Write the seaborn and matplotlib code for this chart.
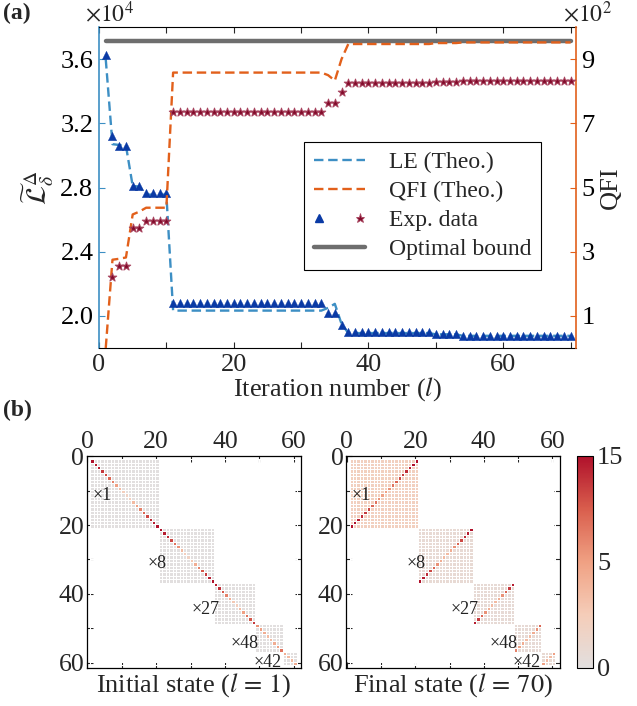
import numpy as np
import pandas as pd
import matplotlib
matplotlib.use("Agg")
import matplotlib.pyplot as plt
import seaborn as sns
from matplotlib.colors import LinearSegmentedColormap, PowerNorm
from matplotlib.lines import Line2D
from matplotlib.legend_handler import HandlerTuple
from matplotlib.ticker import FixedLocator

# ------------------------------------------------------------------ data (a)
iters = list(range(1, 71))
# LE in units of 1e4
le_exp = ([3.626, 3.12, 3.058, 3.058, 2.808, 2.808, 2.767, 2.767, 2.767, 2.767]
          + [2.079] * 23 + [2.017, 2.017, 1.944] + [1.898] * 13 + [1.888] * 4 + [1.875] * 17)
le_theo = ([3.60, 3.07, 3.065, 3.06, 2.81, 2.805, 2.756, 2.756, 2.756, 2.756]
           + [2.033] * 23 + [2.05, 2.075, 1.95] + [1.893] * 13 + [1.885] * 4 + [1.876] * 17)
# QFI in units of 1e2
qfi_theo = ([0.0, 2.75, 2.78, 2.82, 4.16, 4.25, 4.37, 4.37, 4.37, 4.37]
            + [8.58] * 23 + [8.50, 8.33, 9.00] + [9.47] * 13 + [9.50] * 4 + [9.52] * 17)
qfi_exp = ([np.nan, 2.21, 2.54, 2.54, 3.74, 3.74, 3.95, 3.95, 3.95, 3.95]
           + [7.34] * 23 + [7.63, 7.63, 7.99] + [8.25] * 13 + [8.29] * 4 + [8.33] * 17)
optimal_bound = 9.55
bound_iters = [1, 70]

legend_labels = ["LE (Theo.)", "QFI (Theo.)", "Exp. data", "Optimal bound"]

# ------------------------------------------------------------------ data (b)
block_sizes = [20, 16, 12, 8, 4]
block_mult = ["×1", "×8", "×27", "×48", "×42"]
init_diag = [
    [15, 14, 14, 12, 11, 9, 7, 5, 3, 1.5, 1, 1.5, 3, 5, 7, 9, 11, 13, 14, 15],
    [15, 14, 13, 11, 8, 6, 3, 1.5, 1, 2, 4, 7, 10, 12, 14, 15],
    [14, 13, 10, 7, 4, 2, 1.5, 3, 5, 8, 10, 12],
    [6, 5, 4, 3, 3, 4, 5, 8],
    [4, 3, 3, 4],
]
init_bg = [0.0, 0.0, 0.0, 0.0, 0.0]
final_anti = [
    [15, 15, 14, 13, 12, 11, 9, 8, 6, 5, 5, 6, 8, 9, 11, 12, 13, 14, 15, 15],
    [15, 14, 13, 11, 9, 6, 4, 3, 3, 4, 6, 9, 11, 13, 14, 15],
    [14, 12, 9, 6, 4, 3, 3, 4, 6, 9, 12, 14],
    [9, 6, 4, 3, 3, 4, 5, 7],
    [5, 3, 3, 5],
]
final_bg = [1.3, 0.25, 0.2, 0.2, 0.3]
cbar_ticks = [0, 5, 15]


def build(vals_list, bg_list, anti):
    n = sum(block_sizes)
    m = np.full((n, n), np.nan)
    s = 0
    for size, vals, bg in zip(block_sizes, vals_list, bg_list):
        m[s:s + size, s:s + size] = bg
        for i, v in enumerate(vals):
            j = size - 1 - i if anti else i
            m[s + i, s + j] = v
        s += size
    return pd.DataFrame(m)


init_M = build(init_diag, init_bg, anti=False)
final_M = build(final_anti, final_bg, anti=True)

# ------------------------------------------------------------------ style
sns.set_style("ticks")
plt.rcParams["font.family"] = ["Liberation Serif", "DejaVu Serif"]
plt.rcParams["mathtext.fontset"] = "stix"
plt.rcParams["xtick.direction"] = "in"
plt.rcParams["ytick.direction"] = "in"

FS = 19
c_le = "#3d8fc4"
c_qfi = "#e2601b"
c_tri = "#0a3aa5"
c_star = "#820a2a"
c_star_edge = "#a8445f"
c_bound = "#6e6e6e"
dash = (0, (4, 2))

W, H = 637, 706
fig = plt.figure(figsize=(W / 100, H / 100), dpi=100)

# ------------------------------------------------------------------ panel (a)
ax = fig.add_axes([99 / W, 1 - 348 / H, (576 - 99) / W, (348 - 27) / H])
ax2 = ax.twinx()

sns.lineplot(x=iters, y=le_theo, ax=ax, color=c_le, lw=1.7, linestyle=dash, sort=False, errorbar=None)
sns.scatterplot(x=iters, y=le_exp, ax=ax, marker="^", s=36, color=c_tri, edgecolor=c_tri, linewidth=0.3, zorder=3)

sns.lineplot(x=bound_iters, y=[optimal_bound, optimal_bound], ax=ax2, color=c_bound, lw=3.2, sort=False, errorbar=None)
sns.lineplot(x=iters, y=qfi_theo, ax=ax2, color=c_qfi, lw=1.7, linestyle=dash, sort=False, errorbar=None)
sns.scatterplot(x=iters, y=qfi_exp, ax=ax2, marker="*", s=42, color=c_star, edgecolor=c_star_edge, linewidth=0.7, zorder=3)

ax.set_xlim(0, 70.8)
ax.set_ylim(1.8, 3.8)
ax2.set_ylim(0.0, 10.0)

ax.set_xticks(list(range(0, 71, 10)))
ax.set_xticklabels(["0", "", "20", "", "40", "", "60", ""])
ax.set_yticks([2.0, 2.4, 2.8, 3.2, 3.6])
ax.set_yticklabels(["2.0", "2.4", "2.8", "3.2", "3.6"])
ax2.set_yticks([1, 3, 5, 7, 9])
ax2.set_yticklabels(["1", "3", "5", "7", "9"])

ax.tick_params(axis="x", which="both", direction="in", top=True, bottom=True, labelsize=FS, length=4, width=0.8, pad=4)
ax.tick_params(axis="y", direction="in", color=c_le, labelcolor="black", labelsize=FS, length=4, width=0.8, right=False, pad=4)
ax2.tick_params(axis="y", direction="in", color=c_qfi, labelcolor="black", labelsize=FS, length=4, width=0.8, pad=4)

ax.spines["left"].set_color(c_le)
ax.spines["left"].set_linewidth(1.2)
ax.spines["right"].set_visible(False)
for s in ("top", "bottom"):
    ax.spines[s].set_color("black")
    ax.spines[s].set_linewidth(0.8)
ax2.spines["right"].set_color(c_qfi)
ax2.spines["right"].set_linewidth(1.2)
for s in ("left", "top", "bottom"):
    ax2.spines[s].set_visible(False)

ax.set_xlabel("Iteration number ($l$)", fontsize=FS, labelpad=0)
ax.set_ylabel(r"$\widetilde{\mathcal{L}}_{\delta}^{\Delta}$", fontsize=20, labelpad=3)
ax2.set_ylabel("QFI", fontsize=FS, rotation=90, labelpad=4)

fig.text(85 / W, 1 - 14 / H, r"$\times10^{4}$", fontsize=17, va="center", ha="left")
fig.text(563 / W, 1 - 14 / H, r"$\times10^{2}$", fontsize=17, va="center", ha="left")
fig.text(3 / W, 1 - 13 / H, "(a)", fontsize=17, fontweight="bold", va="center", ha="left")
fig.text(3 / W, 1 - 410 / H, "(b)", fontsize=17, fontweight="bold", va="center", ha="left")

h1 = Line2D([], [], color=c_le, lw=1.7, linestyle=dash)
h2 = Line2D([], [], color=c_qfi, lw=1.7, linestyle=dash)
h3a = Line2D([], [], ls="", marker="^", ms=5.5, color=c_tri)
h3b = Line2D([], [], ls="", marker="*", ms=6.5, mfc=c_star, mec=c_star_edge, mew=0.6)
h4 = Line2D([], [], color=c_bound, lw=3.2)
leg = ax2.legend([h1, h2, (h3a, h3b), h4], legend_labels,
                 handler_map={tuple: HandlerTuple(ndivide=None, pad=1.2)},
                 loc="upper left", bbox_to_anchor=(0.43, 0.642), frameon=True, fancybox=False,
                 edgecolor="black", framealpha=1, fontsize=17, handlelength=2.2,
                 handletextpad=1.0, labelspacing=0.32, borderpad=0.4, borderaxespad=0)
leg.get_frame().set_linewidth(0.8)

# ------------------------------------------------------------------ panel (b)
cmap = LinearSegmentedColormap.from_list(
    "grayred", [(0.0, "#e2dfdf"), (0.25, "#f5cdb9"), (0.5, "#f0a183"), (0.75, "#d95e4d"), (1.0, "#b0112b")])
gamma = np.log(0.5) / np.log(5 / 15)
norm = PowerNorm(gamma=gamma, vmin=0, vmax=15)

axL = fig.add_axes([87 / W, 1 - 668 / H, 214 / W, 212 / H])
axR = fig.add_axes([346.5 / W, 1 - 668 / H, 213 / W, 212 / H])
cax = fig.add_axes([577 / W, 1 - 668 / H, 16 / W, 212 / H])

sns.heatmap(init_M, ax=axL, cmap=cmap, norm=norm, cbar=False, linewidths=0.5, linecolor="white",
            xticklabels=False, yticklabels=False)
sns.heatmap(final_M, ax=axR, cmap=cmap, norm=norm, cbar=True, cbar_ax=cax, linewidths=0.5,
            linecolor="white", xticklabels=False, yticklabels=False)

ann_x = [0.6, 16.6, 29.6, 40.8, 47.6]
ann_y = [10.7, 30.3, 43.8, 53.8, 59.2]
tick_shift = 0.8
for a, lab in ((axL, "Initial state ($l\\,=\\,1$)"), (axR, "Final state ($l\\,=\\,70$)")):
    a.set_xlim(-0.9, 61.3)
    a.set_ylim(60.8, -0.9)
    for s in a.spines.values():
        s.set_visible(True)
        s.set_color("black")
        s.set_linewidth(0.9)
    major = [k - tick_shift for k in (0, 20, 40, 60)]
    minor = [k - tick_shift for k in (10, 30, 50)]
    a.set_xticks(major)
    a.set_xticklabels(["0", "20", "40", "60"])
    a.set_yticks(major)
    a.set_yticklabels(["0", "20", "40", "60"], rotation=0)
    a.xaxis.set_minor_locator(FixedLocator(minor))
    a.yaxis.set_minor_locator(FixedLocator(minor))
    a.tick_params(which="both", direction="in", top=True, bottom=True, left=True, right=True,
                  labeltop=True, labelbottom=False, labelleft=True, labelright=False,
                  labelsize=18.5, length=4, width=0.8, pad=2)
    a.xaxis.set_label_position("bottom")
    a.set_xlabel(lab, fontsize=FS, labelpad=2)
    a.set_ylabel("")
    for t, x, y in zip(block_mult, ann_x, ann_y):
        a.text(x, y, t, fontsize=13, ha="left", va="center", color="#222222")

cb = axR.collections[0].colorbar
cb.set_ticks(cbar_ticks)
cb.set_ticklabels([str(t) for t in cbar_ticks])
cb.ax.yaxis.set_minor_locator(FixedLocator([15 * t ** (1 / gamma) for t in np.arange(0.1, 0.95, 0.1)]))
cb.ax.tick_params(which="both", direction="in", left=True, right=True, labelsize=FS, length=3, width=0.7, pad=3)
cb.outline.set_linewidth(0.8)
cb.outline.set_edgecolor("black")

fig.savefig("out.png", dpi=100)
